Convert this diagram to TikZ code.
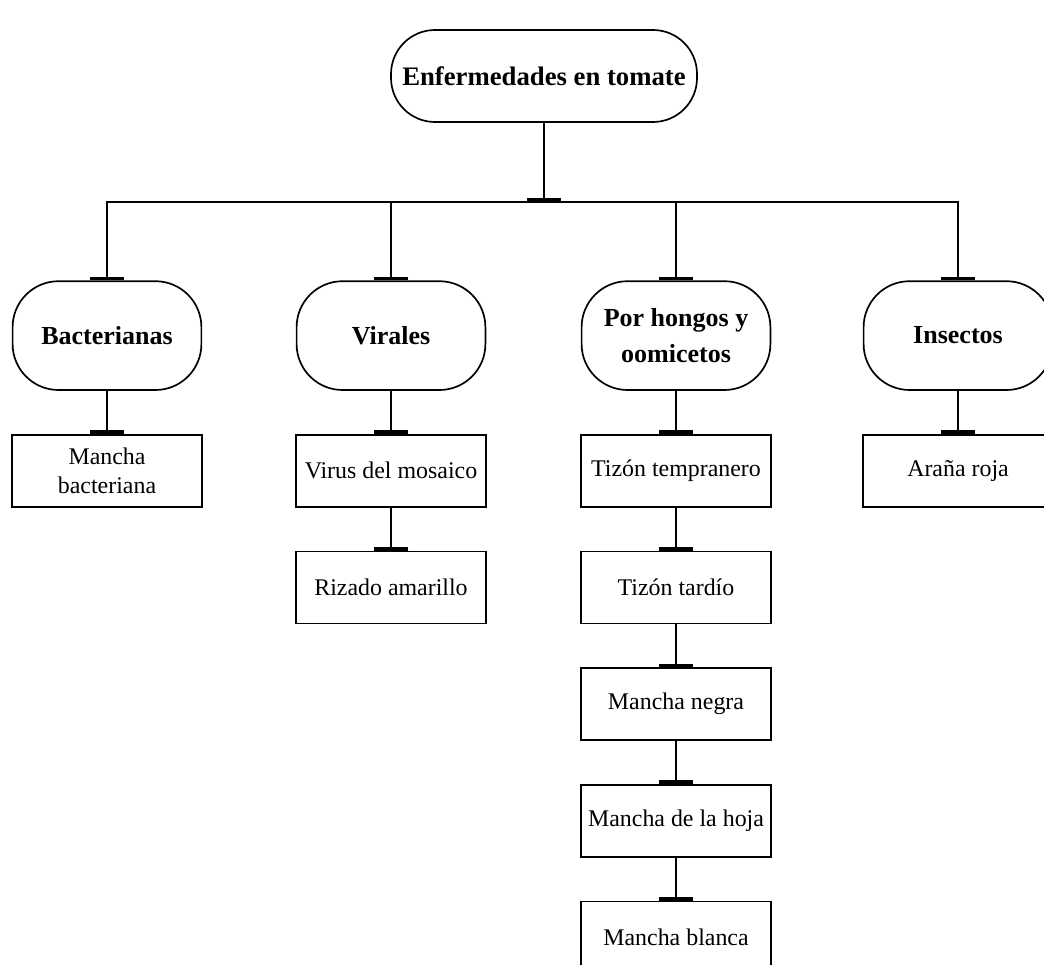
\documentclass[tikz,border=0pt]{standalone}
\usepackage{fontspec}
\setmainfont{Liberation Serif}
\usetikzlibrary{arrows.meta,positioning}
\tikzset{>=Stealth}

\begin{document}
\begin{tikzpicture}[
    top/.style={draw, line width=1.2pt, rounded corners=1.1cm, minimum width=7.65cm, minimum height=2.3cm, font=\fontsize{19}{23}\selectfont\bfseries},
    cat/.style={draw, line width=1.2pt, rounded corners=1.15cm, minimum width=4.72cm, minimum height=2.72cm, align=center, font=\fontsize{18.5}{25}\selectfont\bfseries},
    leaf/.style={draw, line width=1.2pt, minimum width=4.75cm, minimum height=1.8cm, align=center, font=\fontsize{17}{20.5}\selectfont},
    arr/.style={-{Bar[width=0.85cm, line width=2.6pt]}, line width=1.2pt},
    node distance=1.075cm
  ]
    \useasboundingbox (0,0) rectangle (26.1,-24.1);

    \node[top] (root) at (13.6,-1.9) {Enfermedades en tomate};
    \coordinate (bus) at (13.6,-5.05);

    \node[cat] (bact) at (2.675,-8.39) {Bacterianas};
    \node[cat] (vir) at (9.775,-8.39) {Virales};
    \node[cat] (hong) at (16.9,-8.39) {Por hongos y\\oomicetos};
    \node[cat] (ins) at (23.95,-8.39) {Insectos};

    \node[leaf, below=of bact] (mbact) {Mancha\\bacteriana};
    \node[leaf, below=of vir] (mosaico) {Virus del mosaico};
    \node[leaf, below=of mosaico] (rizado) {Rizado amarillo};
    \node[leaf, below=of hong] (temprano) {Tizón tempranero};
    \node[leaf, below=of temprano] (tardio) {Tizón tardío};
    \node[leaf, below=of tardio] (negra) {Mancha negra};
    \node[leaf, below=of negra] (hoja) {Mancha de la hoja};
    \node[leaf, below=of hoja] (blanca) {Mancha blanca};
    \node[leaf, below=of ins] (arana) {Araña roja};

    \draw[arr] (root) -- (bus);
    \draw[arr] (bus) -| (bact);
    \draw[arr] (bus) -| (vir);
    \draw[arr] (bus) -| (hong);
    \draw[arr] (bus) -| (ins);

    \draw[arr] (bact) -- (mbact);
    \draw[arr] (vir) -- (mosaico);
    \draw[arr] (mosaico) -- (rizado);
    \draw[arr] (hong) -- (temprano);
    \draw[arr] (temprano) -- (tardio);
    \draw[arr] (tardio) -- (negra);
    \draw[arr] (negra) -- (hoja);
    \draw[arr] (hoja) -- (blanca);
    \draw[arr] (ins) -- (arana);
  \end{tikzpicture}
\end{document}
